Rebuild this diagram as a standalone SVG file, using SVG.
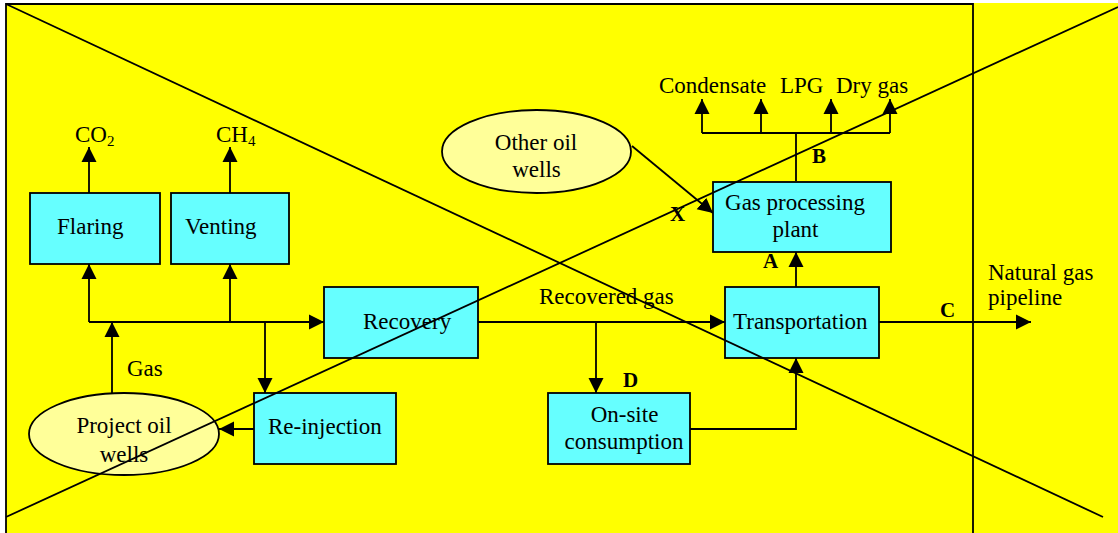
<svg xmlns="http://www.w3.org/2000/svg" width="1118" height="533" viewBox="0 0 1118 533">
<defs>
<style>
.box{fill:#66FFFF;stroke:#000;stroke-width:1.8}
.ell{fill:#FFFF99;stroke:#000;stroke-width:1.8}
.t{font-family:"Liberation Serif","Times New Roman",serif;font-size:23px;fill:#000}
.c{text-anchor:middle}
.b{font-family:"Liberation Serif","Times New Roman",serif;font-size:21px;font-weight:bold;fill:#000}
.ln{fill:none;stroke:#000;stroke-width:1.8}
.ar{fill:none;stroke:#000;stroke-width:1.8;marker-end:url(#ah)}
</style>
<marker id="ah" markerUnits="userSpaceOnUse" markerWidth="16" markerHeight="16" refX="15" refY="8" orient="auto" viewBox="0 0 16 16">
<path d="M0,0.5 L15,8 L0,15.5 z" fill="#000"/>
</marker>
</defs>
<rect x="0" y="0" width="1118" height="533" fill="#FFFFFF"/>
<rect x="6" y="3" width="1112" height="530" fill="#FFFF00"/>
<g id="frame">
<path class="ln" d="M6,533 V4 H973 V533" stroke-width="2"/>
</g>
<g id="connectors">
<path class="ar" d="M89,322 V264"/>
<path class="ar" d="M89,322 H324"/>
<path class="ar" d="M230,322 V264"/>
<path class="ar" d="M112,393 V322"/>
<path class="ar" d="M265,322 V393"/>
<path class="ar" d="M254,429 H219"/>
<path class="ar" d="M89,193 V147"/>
<path class="ar" d="M230,193 V147"/>
<path class="ar" d="M478,322 H725"/>
<path class="ar" d="M596,322 V393"/>
<path class="ar" d="M690,429 H796 V358"/>
<path class="ar" d="M796,287 V252"/>
<path class="ln" d="M796,181 V133 M702,133 H890"/>
<path class="ar" d="M702,133 V99"/>
<path class="ar" d="M761,133 V99"/>
<path class="ar" d="M831,133 V99"/>
<path class="ar" d="M890,133 V99"/>
<path class="ar" d="M879,322 H1031"/>
<path class="ar" d="M632,146 L713,213"/>
</g>
<g id="flaring"><rect class="box" x="30" y="193" width="130" height="71"/><text class="t" x="57" y="234">Flaring</text></g>
<g id="venting"><rect class="box" x="171" y="193" width="118" height="71"/><text class="t" x="185" y="234">Venting</text></g>
<g id="recovery"><rect class="box" x="324" y="287" width="154" height="71"/><text class="t" x="363" y="329">Recovery</text></g>
<g id="reinjection"><rect class="box" x="254" y="393" width="142" height="71"/><text class="t" x="268" y="434">Re-injection</text></g>
<g id="onsite"><rect class="box" x="548" y="393" width="142" height="71"/><text class="t c" x="624.5" y="422">On-site</text><text class="t c" x="624" y="449">consumption</text></g>
<g id="transportation"><rect class="box" x="725" y="287" width="154" height="71"/><text class="t" x="733" y="329">Transportation</text></g>
<g id="gasplant"><rect class="box" x="713" y="182" width="178" height="70"/><text class="t c" x="795" y="210">Gas processing</text><text class="t c" x="795.5" y="237">plant</text></g>
<g id="projectwells"><ellipse class="ell" cx="124" cy="434" rx="95" ry="41"/><text class="t c" x="124" y="433">Project oil</text><text class="t c" x="124" y="462">wells</text></g>
<g id="otherwells"><ellipse class="ell" cx="536.5" cy="151.5" rx="94.5" ry="41.5"/><text class="t c" x="536" y="150">Other oil</text><text class="t c" x="536.5" y="177">wells</text></g>
<g id="labels">
<text class="t" x="75" y="142" font-size="22">CO<tspan font-size="15" dy="4">2</tspan></text>
<text class="t" x="216" y="142" font-size="22">CH<tspan font-size="15" dy="4">4</tspan></text>
<text class="t" x="127" y="376">Gas</text>
<text class="t" x="539" y="304">Recovered gas</text>
<text class="t" x="659" y="93">Condensate</text>
<text class="t" x="780" y="93">LPG</text>
<text class="t" x="836" y="93">Dry gas</text>
<text class="t" x="988" y="280">Natural gas</text>
<text class="t" x="988" y="305">pipeline</text>
<text class="b" x="763" y="268">A</text>
<text class="b" x="812" y="163">B</text>
<text class="b" x="940" y="317">C</text>
<text class="b" x="623" y="387">D</text>
<text class="b" x="670" y="221">X</text>
</g>
<g id="cross">
<path class="ln" d="M6,4 L1103,517"/>
<path class="ln" d="M6,517 L1118,7"/>
</g>
</svg>
